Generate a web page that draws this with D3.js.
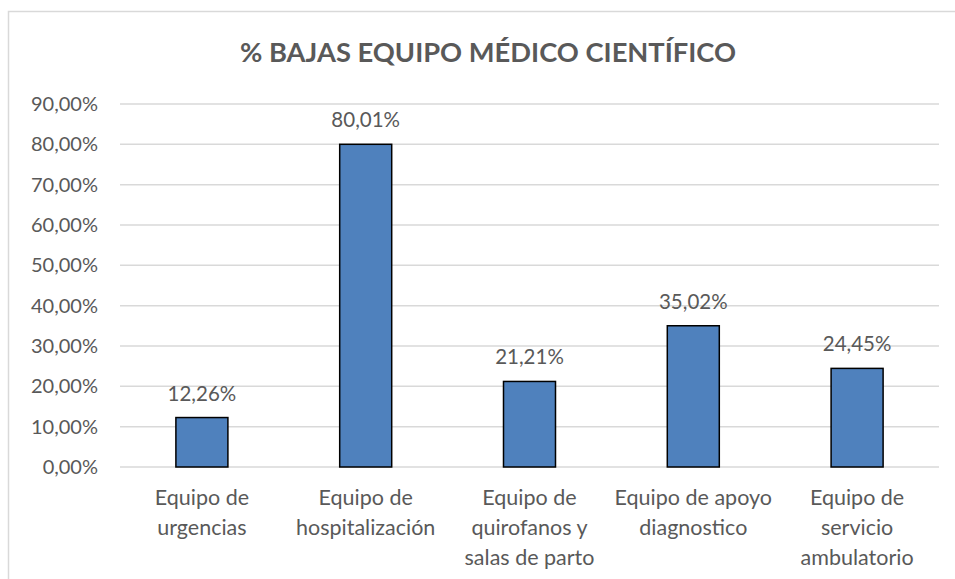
<!doctype html>
<html>
<head>
<meta charset="utf-8">
<style>
  body { margin: 0; background: #fff; }
  text { font-family: Lato, "Open Sans", sans-serif; fill: #595959; }
</style>
<script src="https://cdnjs.cloudflare.com/ajax/libs/d3/7.8.5/d3.min.js"></script>
</head>
<body>
<svg width="955" height="579"></svg>
<script>
  var categories = [
    ["Equipo de", "urgencias"],
    ["Equipo de", "hospitalización"],
    ["Equipo de", "quirofanos y", "salas de parto"],
    ["Equipo de apoyo", "diagnostico"],
    ["Equipo de", "servicio", "ambulatorio"]
  ];
  var values = [12.26, 80.01, 21.21, 35.02, 24.45];
  var yTicks = [0, 10, 20, 30, 40, 50, 60, 70, 80, 90];

  var svg = d3.select("svg");
  var plotLeft = 120, plotRight = 939, plotTop = 104, plotBottom = 467;

  var fmt = function(v) { return v.toFixed(2).replace(".", ",") + "%"; };

  // chart frame
  svg.append("rect")
     .attr("x", 8.5).attr("y", 11.5)
     .attr("width", 960).attr("height", 600)
     .attr("fill", "none")
     .attr("stroke", "#d9d9d9")
     .attr("stroke-width", 1.5);

  svg.append("text")
     .attr("x", 488)
     .attr("y", 62)
     .attr("text-anchor", "middle")
     .attr("font-size", "27.3px")
     .attr("font-weight", "bold")
     .text("% BAJAS EQUIPO MÉDICO CIENTÍFICO");

  var idx = d3.range(values.length);
  var x = d3.scaleBand().domain(idx).range([plotLeft, plotRight]).paddingInner(0.6825).paddingOuter(0.34125);
  var y = d3.scaleLinear().domain([0, 90]).range([plotBottom, plotTop]);

  // gridlines
  svg.append("g")
     .selectAll("line")
     .data(yTicks)
     .enter().append("line")
     .attr("x1", plotLeft).attr("x2", plotRight)
     .attr("y1", function(d) { return y(d); })
     .attr("y2", function(d) { return y(d); })
     .attr("stroke", "#d9d9d9")
     .attr("stroke-width", 1.5);

  var yAxis = svg.append("g")
     .attr("transform", "translate(" + (plotLeft - 22) + ",0)")
     .call(d3.axisLeft(y).tickValues(yTicks).tickSize(0).tickPadding(0).tickFormat(fmt));
  yAxis.select(".domain").remove();
  yAxis.selectAll("text").attr("font-size", "20px").attr("fill", "#595959")
       .style("font-family", "Lato, sans-serif");

  // bars
  svg.selectAll(".bar")
     .data(idx)
     .enter().append("rect")
     .attr("class", "bar")
     .attr("x", function(i) { return x(i); })
     .attr("y", function(i) { return y(values[i]); })
     .attr("width", x.bandwidth())
     .attr("height", function(i) { return y(0) - y(values[i]); })
     .attr("fill", "#4f81bd")
     .attr("stroke", "#000")
     .attr("stroke-width", 1.5);

  // value labels
  svg.selectAll(".lbl")
     .data(idx)
     .enter().append("text")
     .attr("class", "lbl")
     .attr("x", function(i) { return x(i) + x.bandwidth() / 2; })
     .attr("y", function(i) { return y(values[i]) - 17; })
     .attr("text-anchor", "middle")
     .attr("font-size", "20.5px")
     .text(function(i) { return fmt(values[i]); });

  // category labels
  var cat = svg.selectAll(".cat")
     .data(idx)
     .enter().append("text")
     .attr("class", "cat")
     .attr("text-anchor", "middle")
     .attr("font-size", "21.5px");
  cat.each(function(i) {
    var t = d3.select(this);
    categories[i].forEach(function(line, k) {
      t.append("tspan")
       .attr("x", x(i) + x.bandwidth() / 2)
       .attr("y", 505 + k * 30)
       .text(line);
    });
  });
</script>
</body>
</html>
